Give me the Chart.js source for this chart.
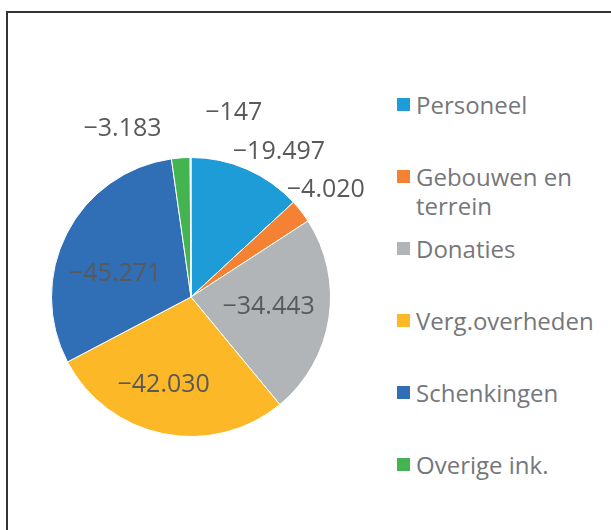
<!DOCTYPE html>
<html>
<head>
<meta charset="utf-8">
<script src="https://cdn.jsdelivr.net/npm/chart.js@4.4.0/dist/chart.umd.min.js"></script>
<style>
  body { margin: 0; background: #fff; width: 611px; height: 530px; overflow: hidden; position: relative; font-family: "Open Sans", sans-serif; }
  #frame { position: absolute; left: 6px; top: 11px; width: 640px; height: 560px; border: 2px solid #333; box-sizing: border-box; }
  #wrap { position: absolute; left: 0; top: 0; width: 383px; height: 530px; }
  #legend { position: absolute; left: 397px; top: 69px; width: 214px; }
  .item { height: 72px; display: flex; align-items: flex-start; padding-top: 21px; box-sizing: border-box; }
  .box { width: 13px; height: 13px; margin-top: 8px; margin-right: 6px; flex: none; }
  .txt { font-size: 24px; line-height: 29px; color: #76777a; width: 190px; white-space: normal; }
</style>
</head>
<body>
<div id="frame"></div>
<div id="wrap"><canvas id="pie"></canvas></div>
<div id="legend"></div>
<script>
// categorieen en waarden (het laatste stukje heeft geen legenda-regel)
const categories = ['Personeel', 'Gebouwen en terrein', 'Donaties', 'Verg.overheden', 'Schenkingen', 'Overige ink.', ''];
const values = [-19497, -4020, -34443, -42030, -45271, -3183, -147];
const colors = ['#1e9cd7', '#f58233', '#b2b5b7', '#fdb827', '#306fb5', '#43b44f', '#8cc8e8'];

// plaats van de labels: [verschuiving in graden t.o.v. midden van het stuk, afstand als deel van de straal]
const labelSpots = [[7.5, 1.22], [-0.9, 1.24], [-2.1, 0.56], [6.2, 0.65], [-9.6, 0.57], [-17.8, 1.31], [13.2, 1.36]];

function fmt(v) {
    const s = String(Math.abs(v)).replace(/\B(?=(\d{3})+(?!\d))/g, '.');
    return (v < 0 ? '\u2212' : '') + s;
}

// labels bij de stukken tekenen
const pieLabels = {
    id: 'pieLabels',
    afterDatasetsDraw(chart) {
        const ctx = chart.ctx;
        const meta = chart.getDatasetMeta(0);
        ctx.save();
        ctx.font = '25px "Open Sans"';
        ctx.fillStyle = '#595959';
        ctx.textAlign = 'center';
        ctx.textBaseline = 'middle';
        meta.data.forEach((arc, i) => {
            const p = arc.getProps(['x', 'y', 'startAngle', 'endAngle', 'outerRadius'], true);
            const mid = (p.startAngle + p.endAngle) / 2 + labelSpots[i][0] * Math.PI / 180;
            const r = p.outerRadius * labelSpots[i][1];
            ctx.fillText(fmt(values[i]), p.x + Math.cos(mid) * r, p.y + Math.sin(mid) * r + 1);
        });
        ctx.restore();
    }
};

const chart = new Chart(document.getElementById('pie'), {
    type: 'pie',
    data: {
        labels: categories,
        datasets: [{
            data: values,
            backgroundColor: colors,
            borderColor: '#ffffff',
            borderWidth: 1
        }]
    },
    options: {
        responsive: true,
        maintainAspectRatio: false,
        animation: false,
        layout: { padding: { left: 51, right: 52, top: 157, bottom: 93 } },
        plugins: {
            legend: { display: false },
            tooltip: { enabled: false }
        }
    },
    plugins: [pieLabels]
});

// legenda rechts
const legend = document.getElementById('legend');
categories.forEach((c, i) => {
    if (!c) return;
    const item = document.createElement('div');
    item.className = 'item';
    item.innerHTML = '<span class="box" style="background:' + colors[i] + '"></span><span class="txt">' + c + '</span>';
    legend.appendChild(item);
});
</script>
</body>
</html>
